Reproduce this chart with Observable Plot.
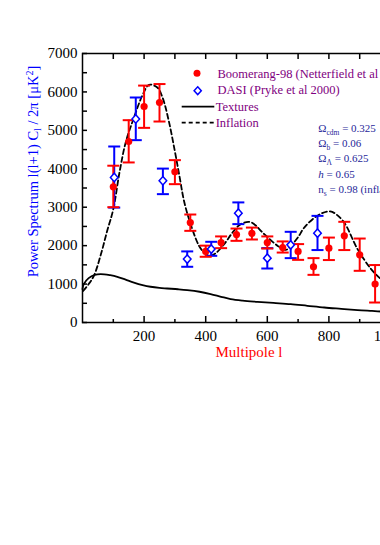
<!DOCTYPE html>
<html><head><meta charset="utf-8">
<script src="https://cdn.jsdelivr.net/npm/d3@7"></script>
<script src="https://cdn.jsdelivr.net/npm/@observablehq/plot@0.6"></script>
<style>
html,body{margin:0;padding:0;background:#fff;overflow:hidden;width:380px;height:545px}
#chart{position:absolute;left:0;top:0}
</style></head><body><div id="chart"></div>
<script>
// Boomerang-98 (red filled circles)
const boomL  = [100,150,200,250,300,350,400,450,500,550,600,650,700,750,800,850,900,950];
const boomV  = [3530,4710,5620,5725,3920,2600,1850,2080,2290,2320,2080,1950,1850,1450,1935,2255,1760,1000];
const boomLo = [3000,4165,5065,5230,3600,2385,1710,1935,2125,2160,1925,1820,1630,1240,1625,1885,1345,520];
const boomHi = [4080,5265,6165,6205,4225,2810,2000,2240,2445,2470,2240,2110,2040,1675,2210,2620,2185,1495];
// DASI (blue open diamonds)
const dasiL  = [103,173,261,340,418,506,600,676,763];
const dasiV  = [3775,5295,3690,1650,1910,2845,1675,2020,2325];
const dasiLo = [2990,4745,3340,1450,1735,2560,1405,1675,1885];
const dasiHi = [4580,5855,4005,1850,2100,3125,1935,2360,2775];
// Inflation model (dashed)
const inflL = [2,20,37,60,80,100,120,140,167,194,216,243,260,280,300,315,330,351,378,395,410,430,460,490,514,546,590,633,660,676,700,720,763,804,845,893,937,969,1000];
const inflV = [820,1000,1215,1780,2380,2950,3900,4680,5330,5900,6185,6115,5850,5250,4450,3800,3150,2560,2000,1820,1740,1790,2040,2370,2560,2610,2300,2000,1890,1990,2220,2470,2780,2890,2650,1910,1390,1130,950];
// Textures model (solid)
const texL = [0,4,20,40,59,90,113,140,167,195,221,250,275,310,340,380,416,450,481,520,568,620,676,730,785,840,893,940,969,1000];
const texV = [870,1000,1155,1240,1260,1230,1190,1115,1040,975,930,900,885,865,843,800,740,670,610,570,539,510,479,435,390,355,322,300,286,270];
// Tick values
const yTicks = d3.range(0, 7001, 500);
const xMajor = [200,400,600,800,1000];
const xMinor = [100,300,500,700,900];
const xTop = d3.range(100, 1000, 100);
// Texts
const legendLabels = ["Boomerang-98 (Netterfield et al 2002)", "DASI (Pryke et al 2000)", "Textures", "Inflation"];
const paramSymbols = ["Ω","Ω","Ω","h","n"];
const paramSubs = ["cdm","b","Λ","","s"];
const paramValues = [" = 0.325"," = 0.06"," = 0.625"," = 0.65"," = 0.98 (inflation)"];

const boom = boomL.map((l,i)=>({l, v: boomV[i], lo: boomLo[i], hi: boomHi[i]}));
const dasi = dasiL.map((l,i)=>({l, v: dasiV[i], lo: dasiLo[i], hi: dasiHi[i]}));
const infl = inflL.map((l,i)=>({l, v: inflV[i]}));
const tex = texL.map((l,i)=>({l, v: texV[i]}));

const cap = {draw(ctx){ ctx.moveTo(-6,0); ctx.lineTo(6,0); }};
const diamond = {draw(ctx){ ctx.moveTo(0,-4.2); ctx.lineTo(3.8,0); ctx.lineTo(0,4.2); ctx.lineTo(-3.8,0); ctx.closePath(); }};

const plot = Plot.plot({
  width: 400, height: 370,
  marginLeft: 82, marginRight: 10, marginTop: 53, marginBottom: 48,
  x: {domain: [0, 1000]},
  y: {domain: [0, 7000]},
  style: {fontFamily: "'Liberation Serif', serif", fontSize: "15px", maxWidth: "none", overflow: "visible", background: "white"},
  marks: [
    Plot.line(tex, {x: "l", y: "v", curve: "catmull-rom", stroke: "black", strokeWidth: 1.8}),
    Plot.line(infl, {x: "l", y: "v", curve: "catmull-rom", stroke: "black", strokeWidth: 1.8, strokeDasharray: "5,3"}),
    Plot.ruleX(dasi, {x: "l", y1: "lo", y2: "hi", stroke: "blue", strokeWidth: 2}),
    Plot.dot(dasi, {x: "l", y: "lo", symbol: cap, stroke: "blue", fill: "none", strokeWidth: 2}),
    Plot.dot(dasi, {x: "l", y: "hi", symbol: cap, stroke: "blue", fill: "none", strokeWidth: 2}),
    Plot.ruleX(boom, {x: "l", y1: "lo", y2: "hi", stroke: "red", strokeWidth: 2}),
    Plot.dot(boom, {x: "l", y: "lo", symbol: cap, stroke: "red", fill: "none", strokeWidth: 2}),
    Plot.dot(boom, {x: "l", y: "hi", symbol: cap, stroke: "red", fill: "none", strokeWidth: 2}),
    Plot.dot(boom, {x: "l", y: "v", r: 3.6, fill: "red", stroke: "none"}),
    Plot.dot(dasi, {x: "l", y: "v", symbol: diamond, fill: "white", stroke: "blue", strokeWidth: 1.5}),
    Plot.axisY(yTicks, {tickSize: -5, tickPadding: 10, strokeWidth: 1.5, tickFormat: d => d % 1000 === 0 ? String(d) : "", label: null}),
    Plot.axisX(xMajor, {anchor: "bottom", tickSize: -6, tickPadding: 14, strokeWidth: 1.5, label: null}),
    Plot.axisX(xMinor, {anchor: "bottom", tickSize: -3, strokeWidth: 1.5, tickFormat: () => "", label: null}),
    Plot.axisX(xTop, {anchor: "top", tickSize: -5, strokeWidth: 1.5, tickFormat: () => "", label: null}),
    Plot.frame({stroke: "black", strokeWidth: 1.5})
  ]
});
document.getElementById("chart").appendChild(plot);

const svg = d3.select(plot);
const g = svg.append("g").attr("font-family", "'Liberation Serif', serif").attr("text-anchor", "start");

// Y axis label
const yl = g.append("text").attr("transform", "translate(38,171.5) rotate(-90)")
  .attr("text-anchor", "middle").attr("fill", "blue").attr("font-size", 14.5);
yl.append("tspan").text("Power Spectrum l(l+1) C");
yl.append("tspan").attr("dy", 3).attr("font-size", 10).text("l");
yl.append("tspan").attr("dy", -3).text(" / 2π [μK");
yl.append("tspan").attr("dy", -5).attr("font-size", 10).text("2");
yl.append("tspan").attr("dy", 5).text("]");

// X axis label
g.append("text").attr("x", 249).attr("y", 357).attr("text-anchor", "middle")
  .attr("fill", "red").attr("font-size", 15).text("Multipole l");

// Legend
const purple = "#800080";
g.append("circle").attr("cx", 197).attr("cy", 73.3).attr("r", 3.5).attr("fill", "red");
g.append("path").attr("d", "M197.7,86.8L201.3,90.7L197.7,94.6L194.1,90.7Z")
  .attr("fill", "white").attr("stroke", "blue").attr("stroke-width", 1.5);
g.append("line").attr("x1", 181.7).attr("x2", 214.3).attr("y1", 106.7).attr("y2", 106.7)
  .attr("stroke", "black").attr("stroke-width", 1.8);
g.append("line").attr("x1", 181.7).attr("x2", 214.3).attr("y1", 122.7).attr("y2", 122.7)
  .attr("stroke", "black").attr("stroke-width", 1.8).attr("stroke-dasharray", "4,3");
const legX = [217.5, 217.5, 215.7, 215.7];
const legY = [77.5, 94, 110.8, 127];
legendLabels.forEach((t, i) => {
  g.append("text").attr("x", legX[i]).attr("y", legY[i]).attr("fill", purple)
    .attr("font-size", 12.5).text(t);
});

// Parameters
paramSymbols.forEach((s, i) => {
  const t = g.append("text").attr("x", 318.3).attr("y", 131.5 + i * 15.4)
    .attr("fill", "#1f1f99").attr("font-size", 11);
  const sym = t.append("tspan").text(s);
  if (s === "h") sym.attr("font-style", "italic");
  if (paramSubs[i]) {
    t.append("tspan").attr("dy", 3).attr("font-size", 7.5).text(paramSubs[i]);
    t.append("tspan").attr("dy", -3).text(paramValues[i]);
  } else {
    t.append("tspan").text(paramValues[i]);
  }
});
</script></body></html>
